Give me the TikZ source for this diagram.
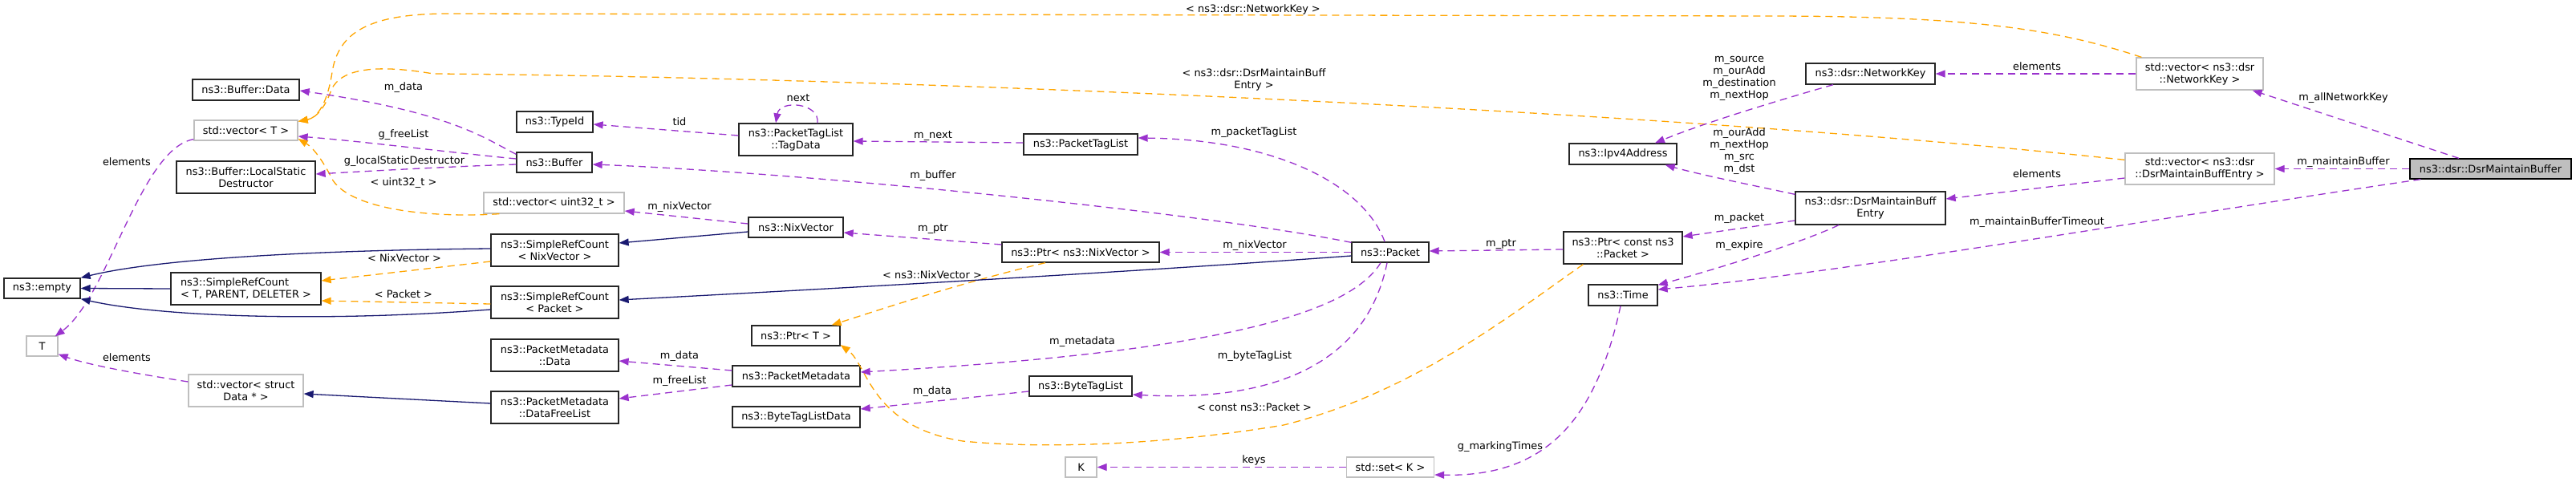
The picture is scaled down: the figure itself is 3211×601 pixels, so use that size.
\documentclass[tikz,border=0pt]{standalone}
\usepackage{fontspec}
\setmainfont{DejaVu Sans}
\usetikzlibrary{arrows.meta}
\definecolor{usec}{HTML}{9A32CD}
\definecolor{tmplc}{HTML}{FFA500}
\definecolor{inhc}{HTML}{191970}
\definecolor{grayb}{HTML}{BFBFBF}
\newcommand{\dfont}{\fontsize{12.9}{15}\selectfont}
\tikzset{
  cls/.style={draw=black!85, line width=1.3pt, fill=white, inner sep=0pt, align=center, font=\dfont},
  gcls/.style={cls, draw=grayb},
  mcls/.style={cls, fill=grayb, draw=black},
  lbl/.style={inner sep=0pt, align=center, font=\dfont},
  usearr/.style={draw=usec, line width=1.3pt, dash pattern=on 9pt off 6pt, -{Triangle[length=12pt,width=9pt]}},
  tmplarr/.style={draw=tmplc, line width=1.3pt, dash pattern=on 9pt off 6pt, -{Triangle[length=12pt,width=9pt]}},
  inharr/.style={draw=inhc, line width=1.3pt, -{Triangle[length=12pt,width=9pt]}}
}
\begin{document}
\begin{tikzpicture}[x=1pt,y=-1pt]
\useasboundingbox (0,0) rectangle (3211,601);
% nodes
\node[cls, minimum width=133pt, minimum height=26pt] (bufdata) at (306.5,112) {ns3::Buffer::Data};
\node[gcls, minimum width=129pt, minimum height=25pt] (vecT) at (306.5,162.5) {std::vector< T >};
\node[cls, minimum width=173pt, minimum height=40pt] (lsd) at (306.5,221) {ns3::Buffer::LocalStatic\\Destructor};
\node[cls, minimum width=95pt, minimum height=25pt] (empty) at (52.5,359.5) {ns3::empty};
\node[cls, align=left, minimum width=187pt, minimum height=40pt] (srcT) at (306.5,360) {ns3::SimpleRefCount\\< T, PARENT, DELETER >};
\node[gcls, minimum width=39pt, minimum height=25pt] (T) at (52.5,431.5) {T};
\node[gcls, minimum width=143pt, minimum height=40pt] (vecStruct) at (306.5,487) {std::vector< struct\\Data * >};
\node[cls, minimum width=95pt, minimum height=26pt] (typeid) at (691.5,152) {ns3::TypeId};
\node[cls, minimum width=142pt, minimum height=40pt] (tagdata) at (992,174) {ns3::PacketTagList\\::TagData};
\node[cls, minimum width=94pt, minimum height=25pt] (buffer) at (691,202.5) {ns3::Buffer};
\node[gcls, minimum width=175pt, minimum height=26pt] (vecU32) at (690.5,253) {std::vector< uint32\_t >};
\node[cls, minimum width=118pt, minimum height=25pt] (nix) at (992,283.5) {ns3::NixVector};
\node[cls, minimum width=159pt, minimum height=40pt] (srcNix) at (691.5,312) {ns3::SimpleRefCount\\< NixVector >};
\node[cls, minimum width=159pt, minimum height=40pt] (srcPkt) at (691.5,377) {ns3::SimpleRefCount\\< Packet >};
\node[cls, minimum width=159pt, minimum height=40pt] (pmData) at (691.5,443) {ns3::PacketMetadata\\::Data};
\node[cls, minimum width=159pt, minimum height=40pt] (pmDFL) at (691.5,508) {ns3::PacketMetadata\\::DataFreeList};
\node[cls, minimum width=110pt, minimum height=25pt] (ptrT) at (992,418.5) {ns3::Ptr< T >};
\node[cls, minimum width=159pt, minimum height=26pt] (pm) at (992.5,469) {ns3::PacketMetadata};
\node[cls, minimum width=159pt, minimum height=26pt] (btld) at (992.5,520) {ns3::ByteTagListData};
\node[cls, minimum width=142pt, minimum height=26pt] (ptl) at (1347,180) {ns3::PacketTagList};
\node[cls, minimum width=196pt, minimum height=25pt] (ptrNix) at (1347,314.5) {ns3::Ptr< ns3::NixVector >};
\node[cls, minimum width=128pt, minimum height=25pt] (btl) at (1347,481.5) {ns3::ByteTagList};
\node[gcls, minimum width=39pt, minimum height=25pt] (K) at (1347.5,582.5) {K};
\node[cls, minimum width=96pt, minimum height=25pt] (packet) at (1733,314.5) {ns3::Packet};
\node[cls, minimum width=134pt, minimum height=26pt] (ipv4) at (2023,192) {ns3::Ipv4Address};
\node[cls, minimum width=148pt, minimum height=40pt] (ptrCP) at (2023,309) {ns3::Ptr< const ns3\\::Packet >};
\node[cls, minimum width=86pt, minimum height=26pt] (time) at (2023,368) {ns3::Time};
\node[gcls, minimum width=109pt, minimum height=25pt] (setK) at (1733,582.5) {std::set< K >};
\node[cls, minimum width=161pt, minimum height=26pt] (nk) at (2331.5,92) {ns3::dsr::NetworkKey};
\node[cls, minimum width=187pt, minimum height=41pt] (entry) at (2331.5,259.5) {ns3::dsr::DsrMaintainBuff\\Entry};
\node[gcls, minimum width=158pt, minimum height=40pt] (vecNK) at (2742,92) {std::vector< ns3::dsr\\::NetworkKey >};
\node[gcls, minimum width=186pt, minimum height=39pt] (vecEntry) at (2742,210.5) {std::vector< ns3::dsr\\::DsrMaintainBuffEntry >};
\node[mcls, minimum width=201pt, minimum height=25pt] (main) at (3104.5,210.5) {ns3::dsr::DsrMaintainBuffer};

% template-instance edges (orange)
\draw[tmplarr] ([xshift=7pt]vecNK.north west) .. controls (2560,35) and (2450,20) .. (2200,20) -- (560,17) .. controls (460,17) and (422,40) .. (414,90) .. controls (408,130) and (395,147) .. ([yshift=-2pt]vecT.north east);
\draw[tmplarr] ([yshift=-9pt]vecEntry.north west) .. controls (2000,130) and (1000,95) .. (540,92) .. controls (470,80) and (425,85) .. (413,112) .. controls (406,132) and (395,147) .. ([yshift=-2pt]vecT.north east);
\draw[tmplarr] ([xshift=20pt]vecU32.south west) .. controls (540,272) and (440,262) .. (415,225) .. controls (405,205) and (392,185) .. ([yshift=-10.5pt]vecT.east);
\draw[tmplarr] ([yshift=-14pt]srcNix.west) -- ([yshift=10pt]srcT.east);
\draw[tmplarr] ([yshift=-2pt]srcPkt.west) -- ([yshift=-15pt]srcT.east);
\draw[tmplarr] ([xshift=-44pt]ptrNix.south) .. controls (1200,352) and (1100,385) .. ([xshift=-11pt]ptrT.north east);
\draw[tmplarr] ([xshift=25pt]ptrCP.south west) .. controls (1880,395) and (1760,490) .. (1600,530) .. controls (1450,555) and (1300,560) .. (1200,550) .. controls (1085,532) and (1082,455) .. ([yshift=-11.5pt]ptrT.east);

% usage edges (purple)
\draw[usearr] ([yshift=-3pt]buffer.north west) .. controls (600,170) and (560,140) .. ([yshift=-1pt]bufdata.east);
\draw[usearr] ([yshift=4.5pt]buffer.west) .. controls (560,190) and (450,176) .. ([yshift=-7.5pt]vecT.east);
\draw[usearr] ([yshift=-2.5pt]buffer.west) .. controls (550,208) and (450,214) .. ([yshift=4pt]lsd.east);
\draw[usearr] ([yshift=2pt]vecT.south west) .. controls (175,185) and (135,370) .. ([xshift=-4pt,yshift=-1pt]T.north east);
\draw[usearr] ([yshift=11pt]vecStruct.west) .. controls (170,466) and (110,455) .. ([yshift=3pt]T.south east);
\draw[usearr] ([yshift=5pt]tagdata.west) -- ([yshift=-3pt]typeid.east);
\draw[usearr] ([xshift=27pt]tagdata.north) .. controls (1022,128) and (972,124) .. ([xshift=-25pt]tagdata.north);
\draw[usearr] ([yshift=2pt]ptl.west) -- ([yshift=-2pt]tagdata.east);
\draw[usearr] ([xshift=-7pt]packet.north) .. controls (1700,230) and (1590,174) .. ([yshift=8pt]ptl.east);
\draw[usearr] ([yshift=-1pt]packet.north west) .. controls (1500,265) and (1000,215) .. ([yshift=-2.5pt]buffer.east);
\draw[usearr] ([yshift=4.5pt]nix.west) -- ([yshift=-10pt]vecU32.east);
\draw[usearr] ([yshift=9.5pt]ptrNix.west) -- ([yshift=-6.5pt]nix.east);
\draw[usearr] (packet.west) -- (ptrNix.east);
\draw[usearr] ([xshift=-12pt]packet.south) .. controls (1680,395) and (1500,440) .. ([yshift=5pt]pm.east);
\draw[usearr] ([xshift=-4pt]packet.south) .. controls (1700,470) and (1560,500) .. ([yshift=-10.5pt]btl.east);
\draw[usearr] ([yshift=-6.5pt]btl.west) -- ([yshift=10pt]btld.east);
\draw[usearr] ([yshift=7pt]pm.west) -- ([yshift=-7pt]pmData.east);
\draw[usearr] ([yshift=-11pt]pm.west) -- ([yshift=11pt]pmDFL.east);
\draw[usearr] (setK.west) -- (K.east);
\draw[usearr] ([xshift=-3pt]time.south) .. controls (1990,520) and (1930,595) .. ([yshift=-9.5pt]setK.east);
\draw[usearr] ([yshift=-2pt]ptrCP.west) -- ([yshift=1.5pt]packet.east);
\draw[usearr] ([yshift=-15.5pt]entry.west) -- ([yshift=14pt]ptrCP.east);
\draw[usearr] ([xshift=-39.5pt]entry.south) .. controls (2240,305) and (2130,338) .. ([yshift=-1pt]time.north east);
\draw[usearr] ([xshift=14pt]main.south west) .. controls (2700,270) and (2300,340) .. ([yshift=7pt]time.east);
\draw[usearr] ([yshift=-4pt]entry.north west) .. controls (2180,230) and (2120,218) .. ([xshift=-15pt]ipv4.south east);
\draw[usearr] ([xshift=-46.5pt]nk.south) .. controls (2200,130) and (2120,155) .. ([xshift=40pt]ipv4.north);
\draw[usearr] (vecNK.west) -- (nk.east);
\draw[usearr] ([yshift=-11.5pt]vecEntry.west) -- ([yshift=11.5pt]entry.east);
\draw[usearr] ([xshift=-39.5pt]main.north) -- ([xshift=-14pt]vecNK.south east);
\draw[usearr] (main.west) -- (vecEntry.east);

% inheritance edges (navy)
\draw[inharr] ([yshift=2pt]srcNix.west) .. controls (400,312) and (200,322) .. (empty.north east);
\draw[inharr] (srcT.west) -- (empty.east);
\draw[inharr] ([yshift=-9pt]srcPkt.west) .. controls (400,402) and (200,395) .. (empty.south east);
\draw[inharr] ([yshift=-5.5pt]nix.west) -- ([yshift=9pt]srcNix.east);
\draw[inharr] ([yshift=-4.5pt]packet.west) .. controls (1400,340) and (1000,362) .. ([yshift=3pt]srcPkt.east);
\draw[inharr] ([yshift=5pt]pmDFL.west) -- ([yshift=-4pt]vecStruct.east);

% labels
\node[lbl] (l1) at (503,109) {m\_data};
\node[lbl] (l2) at (503,168) {g\_freeList};
\node[lbl] (l3) at (504,201) {g\_localStaticDestructor};
\node[lbl] (l4) at (503,228) {< uint32\_t >};
\node[lbl] (l5) at (158,202) {elements};
\node[lbl] (l6) at (504,322) {< NixVector >};
\node[lbl] (l7) at (503,367) {< Packet >};
\node[lbl] (l8) at (158,446) {elements};
\node[lbl] (l9) at (995,122) {next};
\node[lbl] (l10) at (847,152) {tid};
\node[lbl] (l11) at (847,258) {m\_nixVector};
\node[lbl] (l12) at (847,444) {m\_data};
\node[lbl] (l13) at (847,475) {m\_freeList};
\node[lbl] (l14) at (1562,12) {< ns3::dsr::NetworkKey >};
\node[lbl] (l15) at (1563,99) {< ns3::dsr::DsrMaintainBuff\\Entry >};
\node[lbl] (l16) at (1163,169) {m\_next};
\node[lbl] (l17) at (1563,165) {m\_packetTagList};
\node[lbl] (l18) at (1163,219) {m\_buffer};
\node[lbl] (l19) at (1163,285) {m\_ptr};
\node[lbl] (l20) at (1564,306) {m\_nixVector};
\node[lbl] (l21) at (1162,343) {< ns3::NixVector >};
\node[lbl] (l22) at (1349,426) {m\_metadata};
\node[lbl] (l23) at (1564,444) {m\_byteTagList};
\node[lbl] (l24) at (1162,488) {m\_data};
\node[lbl] (l25) at (1563.5,508) {< const ns3::Packet >};
\node[lbl] (l26) at (1563,574) {keys};
\node[lbl] (l27) at (1871,304) {m\_ptr};
\node[lbl] (l28) at (1870,557) {g\_markingTimes};
\node[lbl] (l29) at (2168,97.5) {m\_source\\m\_ourAdd\\m\_destination\\m\_nextHop};
\node[lbl] (l30) at (2168,189) {m\_ourAdd\\m\_nextHop\\m\_src\\m\_dst};
\node[lbl] (l31) at (2168,272) {m\_packet};
\node[lbl] (l32) at (2168,306) {m\_expire};
\node[lbl] (l33) at (2539,83) {elements};
\node[lbl] (l34) at (2539,217) {elements};
\node[lbl] (l35) at (2539,277) {m\_maintainBufferTimeout};
\node[lbl] (l36) at (2921,122) {m\_allNetworkKey};
\node[lbl] (l37) at (2921,202) {m\_maintainBuffer};
\end{tikzpicture}
\end{document}
